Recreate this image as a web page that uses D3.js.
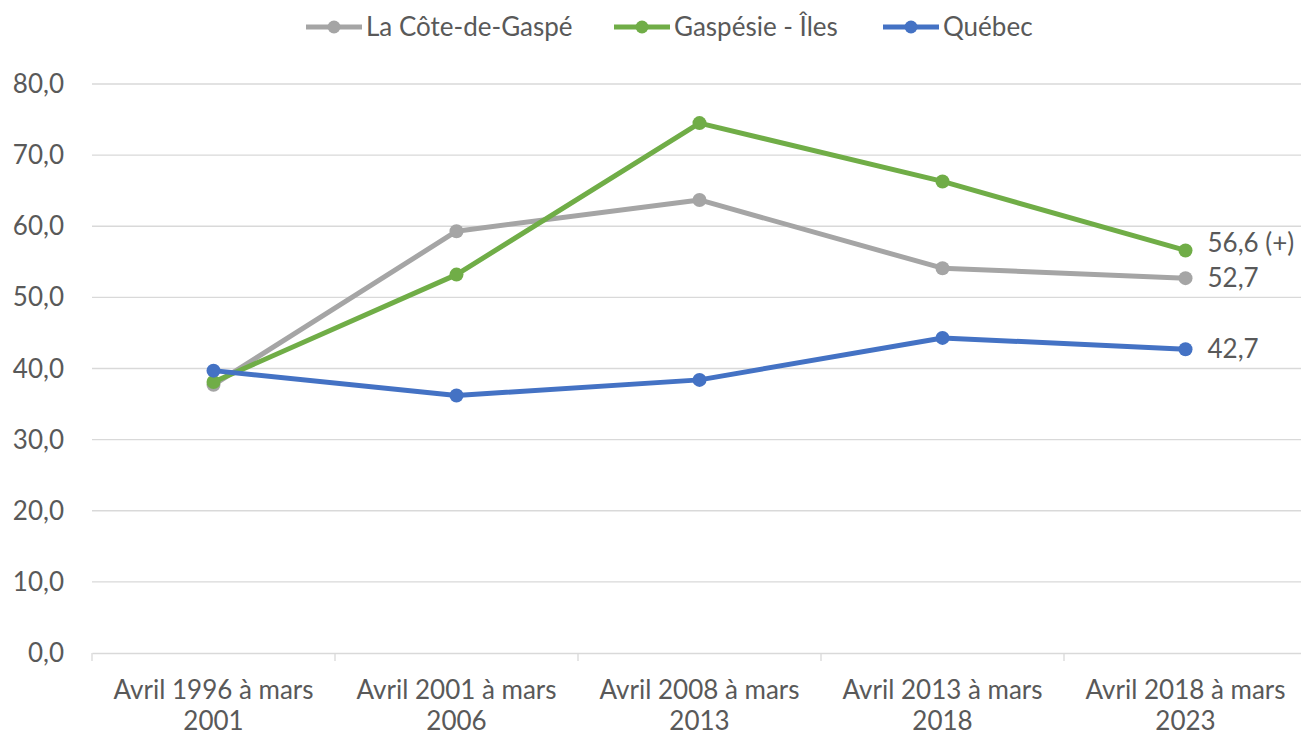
<!DOCTYPE html>
<html>
<head>
<meta charset="utf-8">
<script src="https://cdn.jsdelivr.net/npm/d3@7"></script>
<style>
  body { margin: 0; background: #fff; }
  svg text { font-family: Lato, "Open Sans", sans-serif; fill: #595959; }
</style>
</head>
<body>
<div id="chart"></div>
<script>
const categories = ['Avril 1996 à mars 2001', 'Avril 2001 à mars 2006', 'Avril 2008 à mars 2013', 'Avril 2013 à mars 2018', 'Avril 2018 à mars 2023'];
const seriesNames = ['La Côte-de-Gaspé', 'Gaspésie - Îles', 'Québec'];
const coteGaspe = [37.7, 59.3, 63.7, 54.1, 52.7];
const gaspesie = [38.1, 53.2, 74.5, 66.3, 56.6];
const quebec = [39.7, 36.2, 38.4, 44.3, 42.7];
const endLabels = ['52,7', '56,6 (+)', '42,7'];
const yTicks = [0, 10, 20, 30, 40, 50, 60, 70, 80];
const colors = ['#A5A5A5', '#70AD47', '#4472C4'];

const W = 1301, H = 737;
const plotLeft = 92, plotRight = 1307, plotTop = 84, plotBottom = 653;
const fontSize = '26px';

const svg = d3.select('#chart').append('svg')
    .attr('width', W).attr('height', H);

const x = d3.scaleBand().domain(categories).range([plotLeft, plotRight]);
const y = d3.scaleLinear().domain([0, 80]).range([plotBottom, plotTop]);

// gridlines + y labels
svg.append('g').selectAll('line')
    .data(yTicks.filter(d => d > 0))
    .enter().append('line')
    .attr('x1', plotLeft).attr('x2', plotRight)
    .attr('y1', d => y(d)).attr('y2', d => y(d))
    .style('stroke', '#d9d9d9').style('stroke-width', 1.3);

svg.append('g').selectAll('text')
    .data(yTicks)
    .enter().append('text')
    .attr('x', 64).attr('y', d => y(d) + 9)
    .attr('text-anchor', 'end')
    .style('font-size', fontSize)
    .text(d => d3.format('.1f')(d).replace('.', ','));

// x axis line and ticks
const xAxis = d3.axisBottom(x).tickSize(0).tickFormat('');
svg.append('g').attr('transform', `translate(0,${plotBottom})`).call(xAxis)
    .call(g => g.select('.domain').style('stroke', '#d9d9d9').style('stroke-width', 1.3));
svg.append('g').selectAll('line')
    .data(categories.map(c => x(c)).concat([plotRight]))
    .enter().append('line')
    .attr('x1', d => d).attr('x2', d => d)
    .attr('y1', plotBottom).attr('y2', plotBottom + 8)
    .style('stroke', '#d9d9d9').style('stroke-width', 1.3);

const catLabels = svg.append('g').selectAll('text')
    .data(categories)
    .enter().append('text')
    .attr('text-anchor', 'middle')
    .style('font-size', fontSize);
catLabels.each(function (d) {
    const parts = d.split(' ');
    const line2 = parts.pop();
    const t = d3.select(this);
    const cx = x(d) + x.bandwidth() / 2;
    t.append('tspan').attr('x', cx).attr('y', 699).text(parts.join(' '));
    t.append('tspan').attr('x', cx).attr('y', 730).text(line2);
});

// series
const series = [coteGaspe, gaspesie, quebec];
const line = d3.line()
    .x((d, i) => x(categories[i]) + x.bandwidth() / 2)
    .y(d => y(d));

series.forEach((vals, s) => {
    svg.append('path')
        .datum(vals)
        .attr('d', line)
        .style('fill', 'none')
        .style('stroke', colors[s])
        .style('stroke-width', 5)
        .style('stroke-linejoin', 'round');
    svg.append('g').selectAll('circle')
        .data(vals)
        .enter().append('circle')
        .attr('cx', (d, i) => x(categories[i]) + x.bandwidth() / 2)
        .attr('cy', d => y(d))
        .attr('r', 7)
        .style('fill', colors[s]);
    const last = vals[vals.length - 1];
    svg.append('text')
        .attr('x', x(categories[categories.length - 1]) + x.bandwidth() / 2 + 22)
        .attr('y', y(last) + (s === 1 ? 2 : 9))
        .style('font-size', fontSize)
        .text(endLabels[s]);
});

// legend
const legendX = [306, 614, 883];
const legend = svg.append('g');
seriesNames.forEach((name, s) => {
    const lx = legendX[s];
    legend.append('line')
        .attr('x1', lx).attr('x2', lx + 56)
        .attr('y1', 27).attr('y2', 27)
        .style('stroke', colors[s]).style('stroke-width', 5);
    legend.append('circle')
        .attr('cx', lx + 28).attr('cy', 27).attr('r', 6.5)
        .style('fill', colors[s]);
    legend.append('text')
        .attr('x', lx + 60).attr('y', 36)
        .style('font-size', fontSize)
        .text(name);
});
</script>
</body>
</html>
